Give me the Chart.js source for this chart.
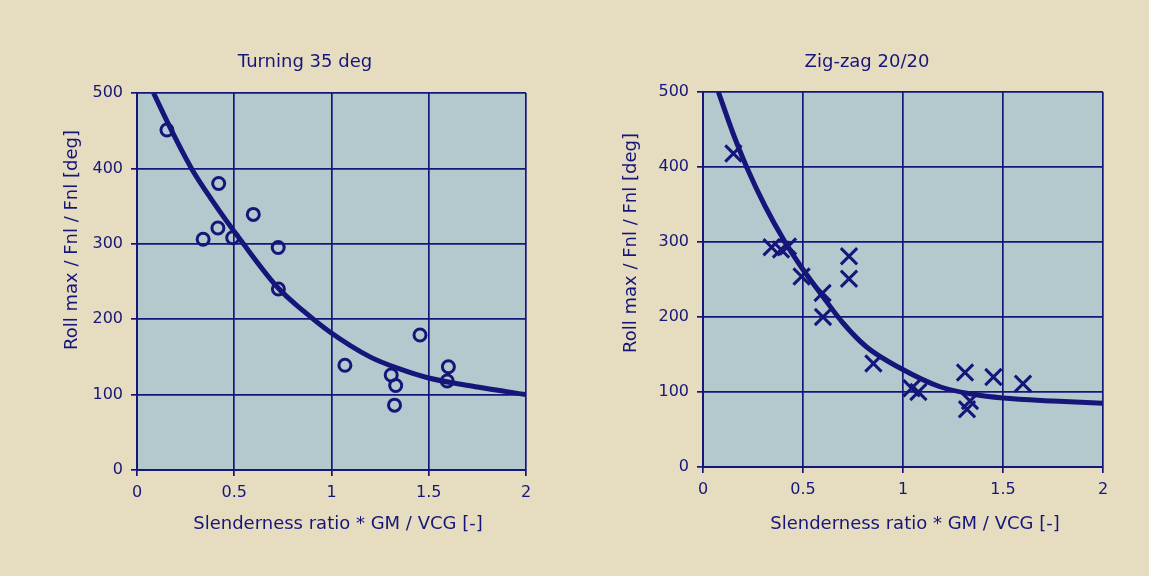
<!DOCTYPE html>
<html lang="en">
<head>
<meta charset="UTF-8">
<title>Roll max / Fnl / Fnl vs slenderness ratio</title>
<style>
  body { margin: 0; background: #ffffff; }
  #page { position: relative; width: 1149px; height: 576px; background: #e6dcc0; }
  .box { position: absolute; top: 0; height: 576px; }
  #box1 { left: 0; width: 580px; }
  #box2 { left: 580px; width: 569px; }
</style>
</head>
<body>
<div id="page">
  <div class="box" id="box1"><canvas id="turning"></canvas></div>
  <div class="box" id="box2"><canvas id="zigzag"></canvas></div>
</div>

<script src="https://cdn.jsdelivr.net/npm/chart.js@4.4.1/dist/chart.umd.min.js"></script>
<script>
// data
var xTicks = [0, 0.5, 1, 1.5, 2];
var xTickLabels = ['0', '0.5', '1', '1.5', '2'];
var yTicks = [0, 100, 200, 300, 400, 500];

// Turning 35 deg (circles)
var turnX = [0.154, 0.34, 0.42, 0.416, 0.492, 0.598, 0.726, 0.727, 1.069, 1.307, 1.33, 1.324, 1.455, 1.601, 1.595];
var turnY = [451, 306, 380, 321, 308, 339, 295, 240, 139, 126, 112, 86, 179, 137, 118];
var turnFitX = [0.085, 0.18, 0.28, 0.38, 0.547, 0.727, 0.86, 0.992, 1.198, 1.35, 1.5, 1.75, 2.0];
var turnFitY = [500, 449, 400, 360, 300, 241, 210, 183, 150, 134, 122, 110, 100];

// Zig-zag 20/20 (crosses)
var zigX = [0.152, 0.343, 0.39, 0.425, 0.493, 0.598, 0.60, 0.73, 0.73, 0.852, 1.043, 1.077, 1.31, 1.335, 1.32, 1.452, 1.60];
var zigY = [418, 293, 290, 294, 254, 232, 200, 281, 251, 138, 105, 100, 126, 88, 77, 120, 111];
var zigFitX = [0.077, 0.15, 0.218, 0.31, 0.41, 0.485, 0.6, 0.7, 0.818, 0.985, 1.185, 1.35, 1.5, 1.75, 2.0];
var zigFitY = [500, 445, 400, 348, 300, 269, 227, 192, 160, 132, 107, 97, 92, 88, 85];

var navy = '#16167a';
var plotBg = '#b4c9ce';
var fontFamily = '"DejaVu Sans", sans-serif';

function pairs(xs, ys) {
    return xs.map(function (x, i) { return { x: x, y: ys[i] }; });
}

// plot background + chart/axis titles at fixed spots
var frameText = {
    id: 'frameText',
    beforeDraw: function (chart) {
        var a = chart.chartArea, ctx = chart.ctx;
        ctx.save();
        ctx.fillStyle = plotBg;
        ctx.fillRect(a.left, a.top, a.right - a.left, a.bottom - a.top);
        ctx.restore();
    },
    afterDraw: function (chart, args, o) {
        var ctx = chart.ctx;
        ctx.save();
        ctx.fillStyle = navy;
        ctx.font = '18px ' + fontFamily;
        ctx.textAlign = 'center';
        ctx.textBaseline = 'alphabetic';
        ctx.fillText(o.title, o.titleX, 67);
        ctx.fillText(o.xTitle, o.xTitleX, 529);
        ctx.translate(o.yTitleX, o.yTitleY);
        ctx.rotate(-Math.PI / 2);
        ctx.fillText(o.yTitle, 0, 0);
        ctx.restore();
    }
};

function makeChart(id, fitX, fitY, ptX, ptY, marker, cfg) {
    var ctx = document.getElementById(id).getContext('2d');
    return new Chart(ctx, {
        type: 'scatter',
        data: {
            datasets: [
                {
                    data: pairs(fitX, fitY),
                    showLine: true,
                    borderColor: navy,
                    borderWidth: 5,
                    pointRadius: 0,
                    cubicInterpolationMode: 'monotone'
                },
                {
                    data: pairs(ptX, ptY),
                    pointStyle: marker,
                    pointRadius: marker === 'circle' ? 6 : 11.5,
                    borderWidth: 3,
                    borderColor: navy,
                    backgroundColor: 'rgba(0,0,0,0)'
                }
            ]
        },
        options: {
            responsive: true,
            maintainAspectRatio: false,
            animation: false,
            layout: { padding: { left: 0, top: cfg.top, right: cfg.right, bottom: 0 } },
            scales: {
                x: {
                    type: 'linear', min: 0, max: 2,
                    afterBuildTicks: function (s) { s.ticks = xTicks.map(function (v) { return { value: v }; }); },
                    afterFit: function (s) { s.height = cfg.xHeight; },
                    ticks: {
                        color: navy, font: { family: fontFamily, size: 16 }, padding: 7, maxRotation: 0,
                        callback: function (v) { return xTickLabels[xTicks.indexOf(v)]; }
                    },
                    grid: { color: navy, lineWidth: 1.7, tickLength: 6 },
                    border: { color: navy, width: 2 }
                },
                y: {
                    type: 'linear', min: 0, max: 500,
                    afterBuildTicks: function (s) { s.ticks = yTicks.map(function (v) { return { value: v }; }); },
                    afterFit: function (s) { s.width = cfg.yWidth; },
                    ticks: { color: navy, font: { family: fontFamily, size: 16 }, padding: 8 },
                    grid: { color: navy, lineWidth: 1.7, tickLength: 6 },
                    border: { color: navy, width: 2 }
                }
            },
            plugins: {
                legend: { display: false },
                tooltip: { enabled: false },
                frameText: {
                    title: cfg.title, titleX: cfg.titleX,
                    xTitle: 'Slenderness ratio * GM / VCG [-]', xTitleX: cfg.xTitleX,
                    yTitle: 'Roll max / Fnl / Fnl [deg]', yTitleX: cfg.yTitleX, yTitleY: cfg.yTitleY
                }
            }
        },
        plugins: [frameText]
    });
}

makeChart('turning', turnFitX, turnFitY, turnX, turnY, 'circle', {
    top: 93, right: 54, xHeight: 106, yWidth: 137,
    title: 'Turning 35 deg', titleX: 305, xTitleX: 338, yTitleX: 76.5, yTitleY: 240
});

makeChart('zigzag', zigFitX, zigFitY, zigX, zigY, 'crossRot', {
    top: 92, right: 46, xHeight: 109, yWidth: 123,
    title: 'Zig-zag 20/20', titleX: 287, xTitleX: 335, yTitleX: 636 - 580, yTitleY: 243
});
</script>
</body>
</html>
